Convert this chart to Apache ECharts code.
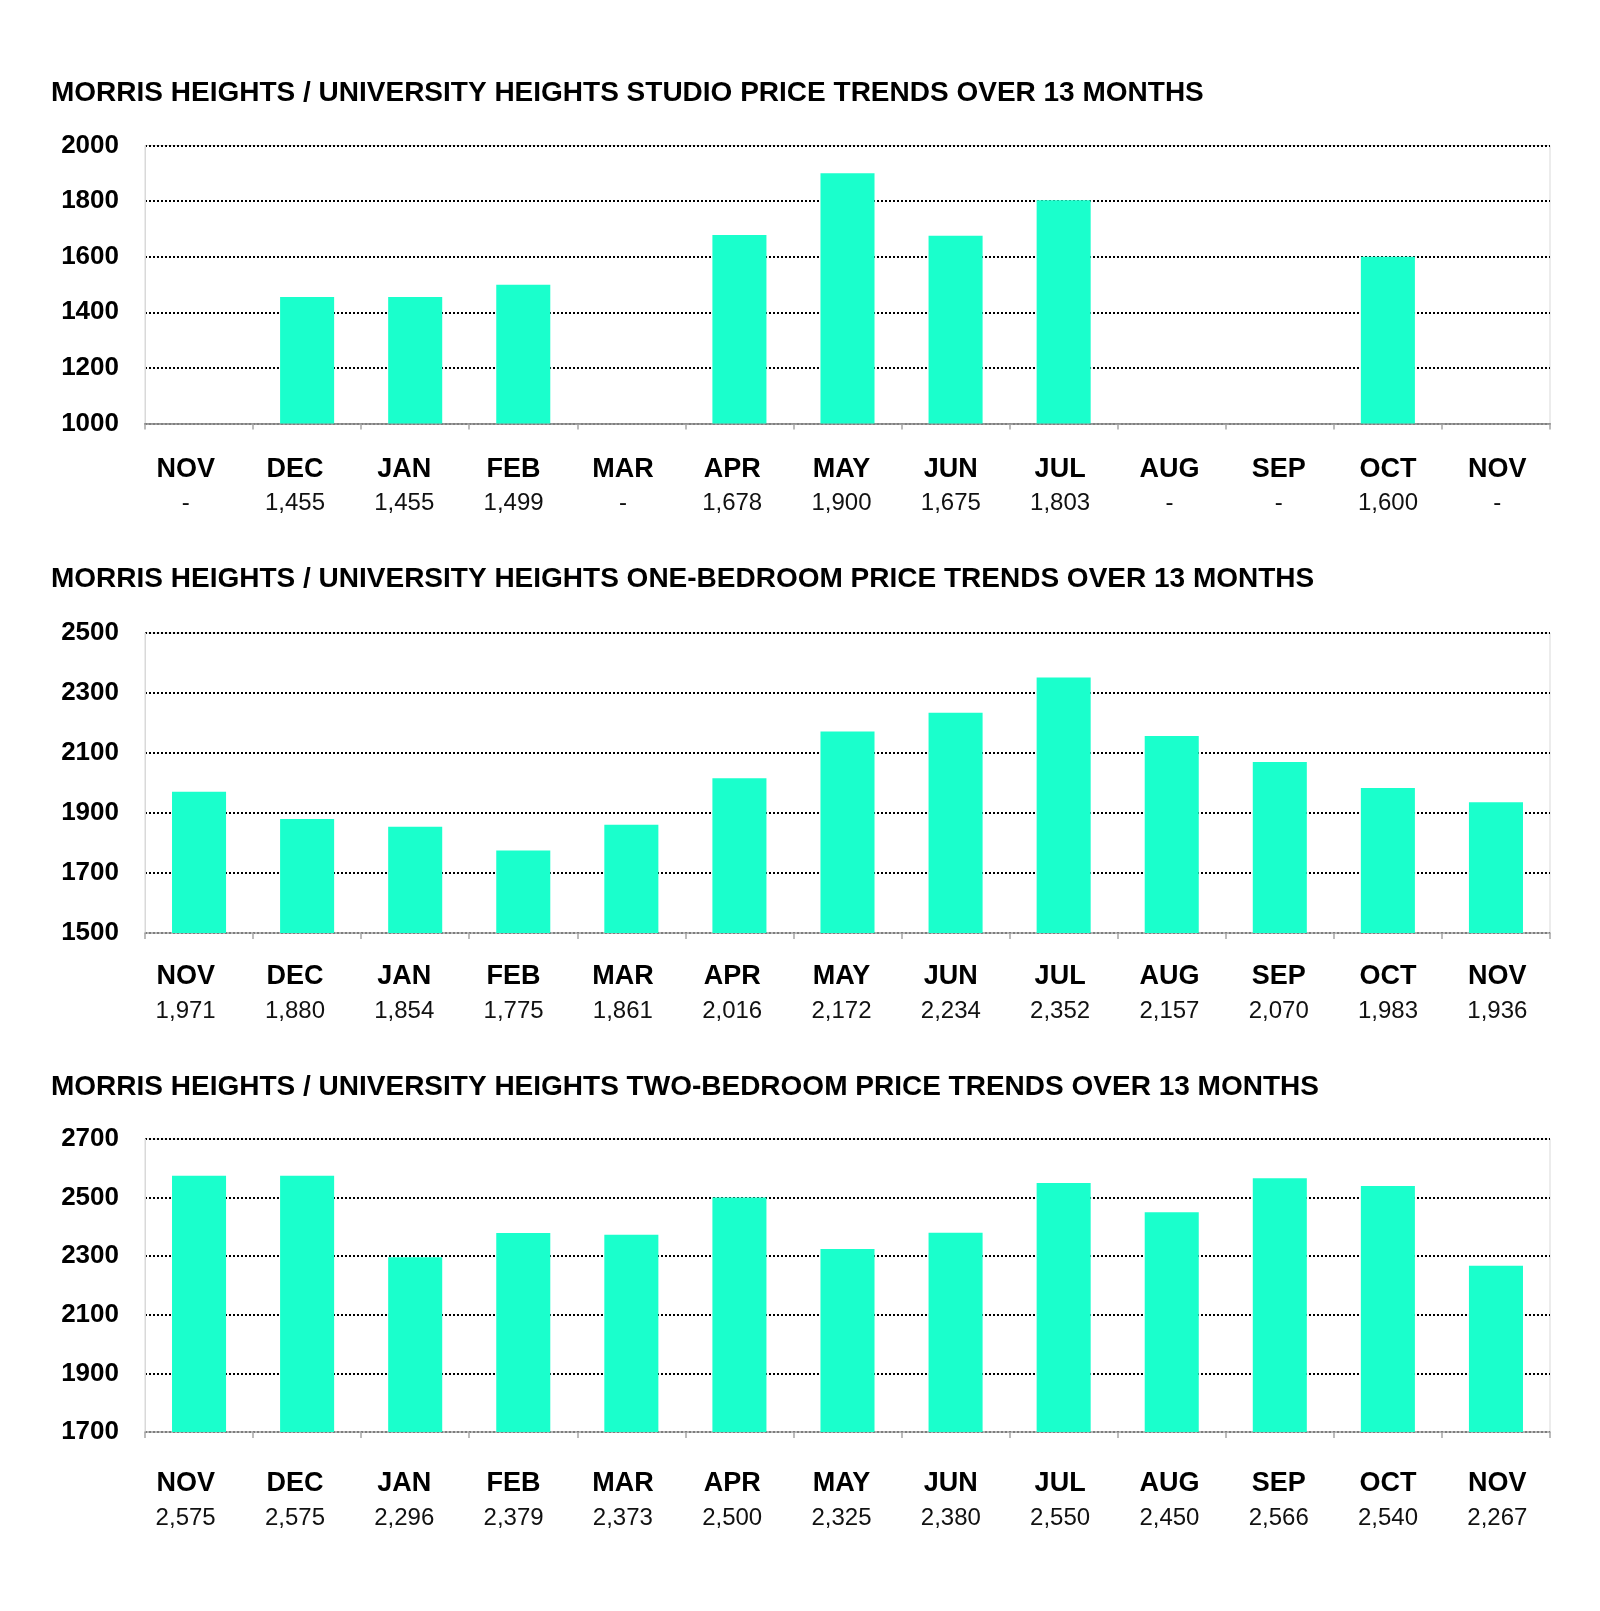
<!DOCTYPE html>
<html>
<head>
<meta charset="utf-8">
<script src="https://cdn.jsdelivr.net/npm/echarts@6/dist/echarts.min.js"></script>
<style>
  html, body { margin: 0; padding: 0; background: #fff; }
  #chart { width: 1600px; height: 1611px; }
</style>
</head>
<body>
<div id="chart"></div>
<script>
var months = ['NOV', 'DEC', 'JAN', 'FEB', 'MAR', 'APR', 'MAY', 'JUN', 'JUL', 'AUG', 'SEP', 'OCT', 'NOV'];

// null = no listing that month (shown as "-")
var studio = [null, 1455, 1455, 1499, null, 1678, 1900, 1675, 1803, null, null, 1600, null];
var oneBed = [1971, 1880, 1854, 1775, 1861, 2016, 2172, 2234, 2352, 2157, 2070, 1983, 1936];
var twoBed = [2575, 2575, 2296, 2379, 2373, 2500, 2325, 2380, 2550, 2450, 2566, 2540, 2267];

var studioTicks = [1000, 1200, 1400, 1600, 1800, 2000];
var oneBedTicks = [1500, 1700, 1900, 2100, 2300, 2500];
var twoBedTicks = [1700, 1900, 2100, 2300, 2500, 2700];

var titles = [
  'MORRIS HEIGHTS / UNIVERSITY HEIGHTS STUDIO PRICE TRENDS OVER 13 MONTHS',
  'MORRIS HEIGHTS / UNIVERSITY HEIGHTS ONE-BEDROOM PRICE TRENDS OVER 13 MONTHS',
  'MORRIS HEIGHTS / UNIVERSITY HEIGHTS TWO-BEDROOM PRICE TRENDS OVER 13 MONTHS'
];

var FONT = '"Liberation Sans", Arial, sans-serif';
var BAR = '#1affcc';

var panels = [
  { data: studio, ticks: studioTicks, titleTop: 79, top: 145.5, height: 278, margin: 29, dottedBase: true },
  { data: oneBed, ticks: oneBedTicks, titleTop: 565, top: 633, height: 300, margin: 27 },
  { data: twoBed, ticks: twoBedTicks, titleTop: 1073, top: 1139, height: 293, margin: 35 }
];

function fmt(v) {
  if (v == null) return '-';
  return v.toLocaleString('en-US');
}

var option = {
  animation: false,
  backgroundColor: '#fff',
  title: [],
  grid: [],
  xAxis: [],
  yAxis: [],
  series: []
};

panels.forEach(function(p, i) {
  option.title.push({
    text: titles[i],
    left: 51,
    top: p.titleTop,
    padding: 0,
    textStyle: { fontFamily: FONT, fontSize: 28, fontWeight: 'bold', color: '#000' }
  });

  // bar grid
  option.grid.push({
    left: 145, right: 50, top: p.top, height: p.height,
    show: true, borderColor: '#d9d9d9', borderWidth: 1
  });
  // label grid (text row under the chart is spread a little wider)
  option.grid.push({
    left: 131, right: 48, top: p.top, height: p.height
  });

  option.xAxis.push({
    type: 'category',
    gridIndex: 2 * i,
    data: months.map(function(m, k) { return String(k); }),
    axisLine: { lineStyle: p.dottedBase
      ? { color: '#808080', width: 2, type: [2, 2] }
      : { color: '#a6a6a6', width: 1.5 } },
    axisTick: { show: true, length: 6, lineStyle: { color: '#a6a6a6', width: 1.5 } },
    axisLabel: { show: false },
    splitLine: { show: false }
  });
  option.xAxis.push({
    type: 'category',
    gridIndex: 2 * i + 1,
    data: months,
    axisLine: { show: false },
    axisTick: { show: false },
    axisLabel: {
      interval: 0,
      margin: p.margin,
      formatter: function(v, idx) {
        return '{m|' + months[idx] + '}\n{v|' + fmt(p.data[idx]) + '}';
      },
      rich: {
        m: { fontFamily: FONT, fontSize: 27, fontWeight: 'bold', color: '#000', lineHeight: 34 },
        v: { fontFamily: FONT, fontSize: 24, color: '#111', lineHeight: 34 }
      }
    }
  });

  option.yAxis.push({
    type: 'value',
    gridIndex: 2 * i,
    min: p.ticks[0],
    max: p.ticks[p.ticks.length - 1],
    axisLine: { show: true, lineStyle: { color: '#d9d9d9' } },
    axisTick: { show: false, customValues: p.ticks },
    axisLabel: {
      customValues: p.ticks,
      margin: 26,
      formatter: function(v) { return String(v); },
      fontFamily: FONT, fontSize: 26, fontWeight: 'bold', color: '#000'
    },
    splitLine: { show: true, lineStyle: { color: '#000', width: 2, type: [2, 2] } }
  });
  option.yAxis.push({
    type: 'value',
    gridIndex: 2 * i + 1,
    min: 0, max: 1,
    show: false
  });

  option.series.push({
    type: 'bar',
    xAxisIndex: 2 * i,
    yAxisIndex: 2 * i,
    barWidth: '50%',
    itemStyle: { color: BAR },
    data: p.data
  });
});

var chart = echarts.init(document.getElementById('chart'));
chart.setOption(option);
</script>
</body>
</html>
